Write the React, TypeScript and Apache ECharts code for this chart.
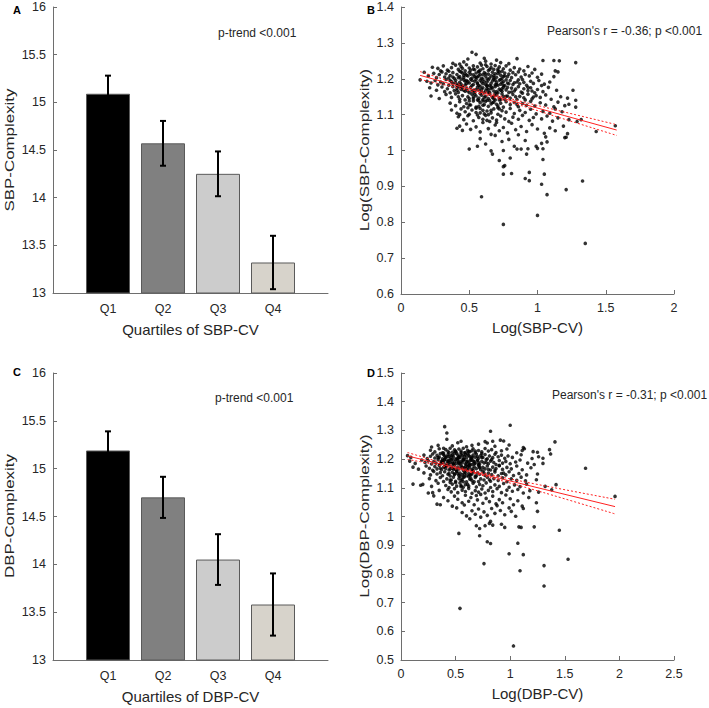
import React, { useEffect, useRef } from 'react';
import * as echarts from 'echarts';

const FONT = '"Liberation Sans", Arial, Helvetica, sans-serif';

const quartiles = ['Q1', 'Q2', 'Q3', 'Q4'];
const sbpMeans = [15.09, 14.57, 14.25, 13.32];
const sbpErr = [0.19, 0.235, 0.235, 0.28];
const dbpMeans = [15.19, 14.70, 14.05, 13.58];
const dbpErr = [0.2, 0.215, 0.265, 0.325];
const barColors = ['#000000', '#808080', '#cccccc', '#d7d3cb'];

const sbpFitX = [0.14, 0.4, 0.65, 0.9, 1.2, 1.58];
const sbpFit = [1.2094, 1.182, 1.1555, 1.129, 1.097, 1.057];
const sbpUpper = [1.220, 1.188, 1.160, 1.135, 1.107, 1.072];
const sbpLower = [1.198, 1.176, 1.151, 1.123, 1.087, 1.042];

const dbpFitX = [0.06, 0.3, 0.6, 0.9, 1.3, 1.96];
const dbpFit = [1.211, 1.1887, 1.1608, 1.133, 1.0958, 1.0345];
const dbpUpper = [1.223, 1.196, 1.165, 1.139, 1.108, 1.060];
const dbpLower = [1.199, 1.182, 1.157, 1.127, 1.084, 1.009];

const sbpPoints = [
  [0.52,1.274],[0.55,1.268],[0.70,1.252],[0.85,1.256],[1.04,1.251],[1.12,1.251],[1.16,1.250],[1.28,1.245],[0.46,1.247],[0.58,1.244],[0.62,1.249],[0.38,1.243],[0.66,1.241],[0.73,1.245],[0.49,1.255],[0.43,1.241],[0.79,1.242],[0.61,1.257],
  [0.23,1.232],[0.27,1.229],[0.31,1.236],[0.34,1.224],[0.37,1.231],[0.40,1.238],[0.42,1.226],[0.44,1.234],[0.47,1.222],[0.48,1.239],[0.50,1.230],[0.53,1.236],[0.54,1.225],[0.56,1.233],[0.57,1.221],[0.59,1.238],[0.60,1.228],[0.63,1.234],[0.64,1.223],[0.66,1.231],[0.68,1.226],[0.69,1.237],[0.71,1.222],[0.72,1.233],[0.75,1.228],[0.77,1.236],[0.80,1.224],[0.83,1.231],[0.87,1.227],[0.90,1.222],[0.93,1.234],[0.98,1.226],[1.13,1.222],[1.15,1.219],[0.45,1.229],[0.51,1.224],[0.62,1.239],[0.74,1.221],[0.35,1.221],[0.29,1.222],
  [0.17,1.218],[0.20,1.208],[0.24,1.215],[0.26,1.203],[0.28,1.212],[0.30,1.219],[0.32,1.205],[0.33,1.214],[0.36,1.209],[0.38,1.217],[0.39,1.201],[0.41,1.212],[0.43,1.206],[0.44,1.219],[0.46,1.203],[0.47,1.214],[0.49,1.208],[0.50,1.218],[0.52,1.202],[0.53,1.211],[0.55,1.216],[0.56,1.205],[0.58,1.212],[0.59,1.201],[0.61,1.217],[0.62,1.207],[0.64,1.213],[0.65,1.202],[0.67,1.218],[0.68,1.209],[0.70,1.204],[0.71,1.215],[0.73,1.210],[0.74,1.201],[0.76,1.216],[0.78,1.206],[0.79,1.213],[0.81,1.203],[0.84,1.211],[0.86,1.219],[0.88,1.205],[0.91,1.212],[0.94,1.208],[0.96,1.216],[1.00,1.204],[1.03,1.213],[1.12,1.206],[0.42,1.203],[0.48,1.210],[0.57,1.219],[0.63,1.200],[0.69,1.214],[0.75,1.207],[0.82,1.217],[0.54,1.206],[0.60,1.211],[0.45,1.216],[0.66,1.208],[0.72,1.219],[0.35,1.202],
  [0.14,1.197],[0.19,1.193],[0.22,1.188],[0.25,1.195],[0.27,1.183],[0.29,1.191],[0.31,1.186],[0.33,1.198],[0.35,1.182],[0.37,1.192],[0.38,1.187],[0.40,1.196],[0.41,1.181],[0.43,1.190],[0.44,1.185],[0.46,1.197],[0.47,1.183],[0.49,1.192],[0.50,1.188],[0.51,1.199],[0.53,1.184],[0.54,1.193],[0.56,1.189],[0.57,1.181],[0.58,1.196],[0.60,1.186],[0.61,1.192],[0.63,1.182],[0.64,1.197],[0.66,1.187],[0.67,1.194],[0.69,1.183],[0.70,1.190],[0.72,1.196],[0.73,1.185],[0.75,1.192],[0.76,1.181],[0.78,1.188],[0.80,1.195],[0.82,1.184],[0.85,1.191],[0.87,1.186],[0.89,1.198],[0.92,1.182],[0.95,1.193],[0.97,1.187],[1.01,1.195],[1.05,1.185],[1.09,1.191],[0.48,1.186],[0.55,1.198],[0.62,1.184],[0.68,1.199],[0.74,1.189],[0.59,1.191],[0.65,1.181],[0.52,1.195],[0.42,1.184],[0.36,1.195],[0.71,1.182],[0.77,1.197],[0.83,1.189],[0.90,1.190],[1.03,1.181],
  [0.21,1.175],[0.26,1.168],[0.30,1.177],[0.32,1.164],[0.34,1.172],[0.36,1.161],[0.38,1.178],[0.39,1.167],[0.41,1.174],[0.42,1.162],[0.44,1.170],[0.45,1.179],[0.47,1.165],[0.48,1.173],[0.50,1.161],[0.51,1.176],[0.53,1.168],[0.54,1.163],[0.56,1.177],[0.57,1.170],[0.59,1.164],[0.60,1.175],[0.62,1.167],[0.63,1.179],[0.65,1.162],[0.66,1.172],[0.68,1.166],[0.69,1.178],[0.71,1.161],[0.72,1.171],[0.74,1.165],[0.75,1.176],[0.77,1.169],[0.79,1.162],[0.81,1.174],[0.83,1.166],[0.86,1.178],[0.88,1.163],[0.90,1.172],[0.93,1.167],[0.95,1.175],[0.98,1.161],[1.00,1.170],[1.04,1.164],[1.08,1.176],[1.14,1.168],[1.26,1.168],[0.55,1.170],[0.61,1.161],[0.67,1.175],[0.73,1.168],[0.58,1.179],[0.64,1.170],[0.70,1.164],[0.46,1.168],[0.52,1.166],[0.78,1.176],[0.84,1.171],[0.96,1.166],[0.43,1.177],
  [0.22,1.152],[0.28,1.145],[0.33,1.156],[0.37,1.148],[0.40,1.158],[0.43,1.143],[0.45,1.153],[0.47,1.141],[0.49,1.150],[0.52,1.157],[0.53,1.144],[0.55,1.152],[0.57,1.146],[0.58,1.159],[0.60,1.142],[0.62,1.151],[0.64,1.145],[0.65,1.157],[0.67,1.148],[0.69,1.141],[0.70,1.155],[0.72,1.147],[0.74,1.158],[0.76,1.143],[0.78,1.152],[0.80,1.146],[0.82,1.156],[0.85,1.142],[0.87,1.151],[0.90,1.147],[0.93,1.157],[0.96,1.144],[0.99,1.153],[1.02,1.148],[1.06,1.155],[1.10,1.143],[1.17,1.150],[1.22,1.146],[0.50,1.145],[0.63,1.140],[0.75,1.151],[0.59,1.154],[0.68,1.152],[0.42,1.150],[0.56,1.141],[0.84,1.150],[0.73,1.142],[0.91,1.141],[1.28,1.140],
  [0.36,1.132],[0.40,1.125],[0.43,1.136],[0.46,1.122],[0.48,1.131],[0.51,1.127],[0.53,1.138],[0.55,1.121],[0.58,1.133],[0.60,1.126],[0.62,1.137],[0.64,1.123],[0.66,1.130],[0.68,1.135],[0.71,1.124],[0.73,1.132],[0.75,1.121],[0.77,1.136],[0.80,1.128],[0.83,1.134],[0.86,1.122],[0.89,1.131],[0.92,1.126],[0.95,1.137],[0.98,1.124],[1.02,1.133],[1.06,1.127],[1.12,1.122],[1.15,1.135],[1.20,1.125],[1.23,1.129],[1.28,1.121],[0.50,1.138],[0.57,1.123],[0.65,1.139],[0.70,1.129],
  [0.37,1.113],[0.41,1.104],[0.44,1.116],[0.47,1.108],[0.50,1.101],[0.52,1.113],[0.55,1.106],[0.58,1.117],[0.61,1.102],[0.63,1.110],[0.66,1.105],[0.68,1.116],[0.71,1.101],[0.74,1.111],[0.77,1.107],[0.80,1.117],[0.83,1.103],[0.87,1.112],[0.91,1.106],[0.95,1.115],[0.99,1.102],[1.04,1.109],[1.09,1.104],[1.13,1.116],[1.18,1.108],[0.60,1.112],[0.64,1.100],[0.72,1.116],[0.43,1.100],
  [0.42,1.094],[0.46,1.086],[0.49,1.097],[0.53,1.083],[0.57,1.092],[0.60,1.087],[0.62,1.098],[0.65,1.081],[0.67,1.091],[0.70,1.085],[0.73,1.096],[0.76,1.088],[0.79,1.081],[0.82,1.093],[0.86,1.087],[0.89,1.098],[0.94,1.084],[0.97,1.092],[1.03,1.088],[1.07,1.096],[1.11,1.082],[1.15,1.091],[1.23,1.086],[1.29,1.081],[1.32,1.086],[0.63,1.084],[0.56,1.099],
  [0.41,1.062],[0.43,1.068],[0.45,1.056],[0.48,1.074],[0.51,1.059],[0.55,1.066],[0.58,1.052],[0.60,1.078],[0.64,1.061],[0.66,1.045],[0.69,1.071],[0.72,1.055],[0.75,1.064],[0.78,1.049],[0.81,1.076],[0.84,1.058],[0.88,1.067],[0.92,1.053],[0.96,1.072],[1.00,1.060],[1.05,1.048],[1.09,1.063],[1.13,1.055],[1.19,1.068],[1.22,1.047],[1.43,1.053],[1.57,1.069],[0.69,1.042],[0.86,1.044],[0.70,1.078],
  [0.50,1.004],[0.56,1.012],[0.58,1.033],[0.62,1.018],[0.66,0.999],[0.67,0.990],[0.75,1.000],[0.83,1.012],[0.85,1.004],[0.88,1.004],[0.93,1.005],[0.99,1.012],[1.00,1.006],[1.03,1.020],[1.04,1.005],[1.06,1.038],[1.07,1.024],[1.20,1.036],[1.21,1.037],[0.74,1.025],[0.79,1.031],[0.91,1.028],
  [0.92,0.990],[0.72,0.972],[0.80,0.979],[1.04,0.975],[0.75,0.955],[0.76,0.958],[0.75,0.934],[0.81,0.936],[0.94,0.939],[1.05,0.934],[0.91,0.922],[0.94,0.916],[1.03,0.906],[1.33,0.915],[1.21,0.891],[1.07,0.877],[0.59,0.871],[1.00,0.819],[0.75,0.794],[1.35,0.741],
  [0.38,1.205],[0.40,1.189],[0.43,1.221],[0.45,1.176],[0.46,1.209],[0.48,1.195],[0.49,1.166],[0.51,1.213],[0.52,1.181],[0.53,1.227],[0.54,1.157],[0.55,1.204],[0.56,1.186],[0.57,1.139],[0.58,1.224],[0.59,1.171],[0.60,1.199],[0.61,1.148],[0.62,1.214],[0.63,1.191],[0.64,1.162],[0.65,1.226],[0.66,1.178],[0.67,1.133],[0.68,1.203],[0.69,1.159],[0.70,1.184],[0.71,1.227],[0.72,1.141],[0.73,1.198],[0.74,1.172],[0.76,1.208],[0.77,1.151],[0.79,1.186],[0.81,1.163],[0.50,1.127],[0.55,1.118],[0.61,1.128],[0.66,1.112],[0.71,1.119],[0.47,1.193],[0.44,1.199],[0.41,1.168],[0.57,1.208],[0.63,1.173],[0.69,1.196],[0.75,1.181],[0.60,1.138],[0.53,1.149],[0.68,1.144],[0.86,1.197],[0.89,1.160],[0.93,1.176],[0.97,1.149],[0.58,1.105],[0.49,1.119],[0.85,1.128]
];

const dbpPoints = [
  [0.40,1.313],[0.42,1.291],[0.82,1.297],[1.00,1.318],[0.42,1.269],[0.91,1.266],[0.77,1.261],[0.79,1.256],[0.94,1.263],[1.41,1.260],[1.36,1.233],[1.37,1.218],[0.52,1.257],[0.65,1.248],[0.71,1.252],[1.12,1.240],[1.13,1.236],[0.86,1.245],[0.47,1.246],[0.60,1.243],[0.99,1.249],[0.55,1.262],[0.84,1.262],[0.28,1.242],[0.34,1.248],
  [0.27,1.231],[0.31,1.225],[0.35,1.236],[0.38,1.222],[0.41,1.233],[0.43,1.227],[0.45,1.238],[0.47,1.224],[0.49,1.232],[0.51,1.221],[0.53,1.235],[0.55,1.228],[0.57,1.238],[0.59,1.223],[0.61,1.231],[0.63,1.226],[0.66,1.236],[0.68,1.222],[0.71,1.230],[0.74,1.225],[0.77,1.237],[0.80,1.228],[0.83,1.233],[0.87,1.223],[0.92,1.229],[0.97,1.235],[1.06,1.222],[1.11,1.230],[1.21,1.226],[1.25,1.224],[0.50,1.228],[0.58,1.222],[0.65,1.229],[0.44,1.222],[0.39,1.238],
  [0.06,1.212],[0.09,1.206],[0.21,1.214],[0.24,1.202],[0.27,1.210],[0.29,1.218],[0.31,1.204],[0.33,1.213],[0.35,1.207],[0.36,1.219],[0.38,1.201],[0.40,1.211],[0.41,1.205],[0.43,1.216],[0.45,1.203],[0.46,1.212],[0.48,1.208],[0.49,1.219],[0.51,1.202],[0.52,1.214],[0.54,1.206],[0.55,1.217],[0.57,1.201],[0.58,1.211],[0.60,1.205],[0.61,1.218],[0.63,1.209],[0.64,1.202],[0.66,1.214],[0.68,1.207],[0.69,1.218],[0.71,1.203],[0.73,1.212],[0.75,1.206],[0.77,1.216],[0.79,1.201],[0.81,1.211],[0.84,1.205],[0.86,1.217],[0.89,1.208],[0.92,1.214],[0.95,1.203],[0.98,1.211],[1.02,1.206],[1.10,1.215],[1.20,1.202],[1.26,1.208],[1.30,1.203],[0.47,1.200],[0.53,1.209],[0.62,1.213],[0.70,1.209],[0.56,1.212],[0.44,1.210],[0.39,1.215],[0.74,1.219],[0.65,1.204],
  [0.08,1.193],[0.13,1.185],[0.19,1.197],[0.22,1.188],[0.25,1.194],[0.28,1.183],[0.30,1.191],[0.32,1.186],[0.34,1.198],[0.36,1.182],[0.37,1.192],[0.39,1.188],[0.40,1.197],[0.42,1.184],[0.43,1.193],[0.45,1.189],[0.46,1.198],[0.48,1.182],[0.49,1.191],[0.51,1.186],[0.52,1.196],[0.54,1.183],[0.55,1.192],[0.56,1.187],[0.58,1.199],[0.59,1.184],[0.61,1.193],[0.62,1.188],[0.64,1.197],[0.65,1.181],[0.67,1.191],[0.68,1.186],[0.70,1.196],[0.72,1.183],[0.74,1.192],[0.76,1.187],[0.78,1.198],[0.80,1.184],[0.82,1.193],[0.85,1.188],[0.87,1.181],[0.90,1.195],[0.93,1.186],[0.96,1.192],[1.00,1.184],[1.05,1.190],[1.09,1.197],[1.16,1.186],[1.22,1.181],[1.30,1.185],[0.47,1.187],[0.53,1.190],[0.60,1.181],[0.66,1.194],[0.71,1.189],[0.57,1.195],[0.63,1.183],[0.50,1.199],[0.44,1.181],[0.38,1.194],
  [0.11,1.172],[0.16,1.165],[0.23,1.176],[0.26,1.168],[0.29,1.161],[0.31,1.174],[0.33,1.166],[0.35,1.178],[0.37,1.163],[0.39,1.171],[0.41,1.167],[0.42,1.177],[0.44,1.162],[0.46,1.173],[0.47,1.168],[0.49,1.179],[0.50,1.164],[0.52,1.172],[0.53,1.166],[0.55,1.176],[0.57,1.161],[0.58,1.170],[0.60,1.165],[0.62,1.177],[0.63,1.169],[0.65,1.162],[0.67,1.174],[0.69,1.167],[0.71,1.178],[0.73,1.163],[0.75,1.171],[0.77,1.166],[0.79,1.176],[0.82,1.162],[0.84,1.172],[0.87,1.167],[0.90,1.177],[0.93,1.164],[0.97,1.171],[1.01,1.166],[1.06,1.176],[1.11,1.163],[1.19,1.170],[1.69,1.168],[0.56,1.169],[0.61,1.173],[0.48,1.165],[0.66,1.166],[0.72,1.170],[0.40,1.175],
  [0.21,1.152],[0.27,1.145],[0.30,1.157],[0.33,1.148],[0.36,1.153],[0.38,1.142],[0.40,1.156],[0.43,1.147],[0.45,1.141],[0.47,1.154],[0.49,1.146],[0.51,1.158],[0.53,1.143],[0.54,1.151],[0.56,1.146],[0.58,1.157],[0.60,1.142],[0.62,1.150],[0.64,1.145],[0.66,1.156],[0.68,1.141],[0.70,1.152],[0.72,1.147],[0.75,1.158],[0.77,1.143],[0.80,1.151],[0.83,1.146],[0.86,1.155],[0.89,1.142],[0.92,1.150],[0.96,1.145],[0.99,1.156],[1.03,1.143],[1.08,1.150],[1.15,1.145],[1.25,1.148],[0.52,1.149],[0.59,1.153],[0.65,1.149],[0.44,1.150],
  [0.26,1.132],[0.32,1.125],[0.36,1.136],[0.39,1.122],[0.42,1.131],[0.45,1.127],[0.48,1.137],[0.50,1.123],[0.53,1.132],[0.55,1.126],[0.58,1.138],[0.60,1.121],[0.63,1.130],[0.65,1.125],[0.68,1.136],[0.71,1.122],[0.73,1.131],[0.76,1.127],[0.79,1.137],[0.82,1.123],[0.85,1.132],[0.89,1.126],[0.93,1.135],[0.97,1.121],[1.01,1.131],[1.06,1.126],[1.10,1.137],[1.14,1.124],[1.24,1.128],[0.57,1.121],[0.62,1.139],
  [0.20,1.112],[0.28,1.105],[0.34,1.116],[0.41,1.108],[0.44,1.101],[0.47,1.113],[0.51,1.106],[0.54,1.117],[0.57,1.102],[0.59,1.111],[0.62,1.106],[0.66,1.116],[0.69,1.103],[0.72,1.112],[0.75,1.107],[0.78,1.117],[0.82,1.101],[0.86,1.110],[0.90,1.105],[0.94,1.115],[0.99,1.102],[1.04,1.110],[1.09,1.104],[1.15,1.113],[1.32,1.105],[1.42,1.111],[1.38,1.093],[0.55,1.108],
  [0.25,1.082],[0.29,1.083],[0.35,1.091],[0.43,1.094],[0.46,1.086],[0.49,1.097],[0.52,1.083],[0.56,1.092],[0.59,1.087],[0.62,1.098],[0.65,1.081],[0.68,1.090],[0.71,1.085],[0.74,1.096],[0.77,1.082],[0.80,1.091],[0.84,1.087],[0.88,1.097],[0.92,1.083],[0.97,1.092],[1.02,1.088],[1.07,1.094],[1.12,1.082],[1.18,1.090],[1.26,1.085],[0.11,1.113],[0.18,1.109],
  [0.30,1.072],[0.33,1.043],[0.36,1.041],[0.39,1.066],[0.43,1.055],[0.47,1.036],[0.49,1.071],[0.52,1.060],[0.56,1.048],[0.59,1.074],[0.62,1.053],[0.64,1.066],[0.67,1.041],[0.70,1.058],[0.73,1.077],[0.75,1.046],[0.78,1.063],[0.81,1.052],[0.84,1.071],[0.87,1.044],[0.90,1.059],[0.93,1.048],[0.96,1.075],[1.00,1.062],[1.03,1.041],[1.07,1.055],[1.11,1.036],[1.17,1.066],[1.24,1.048],[1.96,1.070],[0.58,1.040],[0.69,1.073],
  [0.51,1.030],[0.56,1.014],[0.60,1.002],[0.63,0.992],[0.65,1.020],[0.68,1.008],[0.71,1.026],[0.73,0.998],[0.76,1.016],[0.79,1.004],[0.83,1.028],[0.86,1.011],[0.88,1.038],[0.91,1.021],[0.95,1.006],[0.99,1.030],[1.01,1.018],[1.05,1.001],[1.12,1.028],[1.25,1.018],[0.82,0.983],[0.81,0.976],
  [0.69,0.968],[0.72,0.958],[0.77,0.968],[0.84,0.970],[0.92,0.973],[0.95,0.962],[1.08,0.964],[1.10,0.962],[1.22,0.964],[1.45,0.952],[0.53,0.941],[0.72,0.933],[0.79,0.912],[0.82,0.906],[1.07,0.907],[0.99,0.870],[1.12,0.867],[0.76,0.836],[1.09,0.811],[1.31,0.829],[1.53,0.851],[1.31,0.758],[0.54,0.680],[1.03,0.549],
  [0.34,1.205],[0.37,1.188],[0.39,1.221],[0.41,1.177],[0.42,1.208],[0.44,1.194],[0.45,1.166],[0.47,1.213],[0.48,1.184],[0.50,1.226],[0.51,1.157],[0.52,1.201],[0.53,1.185],[0.54,1.139],[0.55,1.223],[0.56,1.172],[0.57,1.198],[0.58,1.148],[0.59,1.215],[0.60,1.191],[0.61,1.162],[0.62,1.225],[0.63,1.178],[0.64,1.132],[0.65,1.207],[0.66,1.158],[0.67,1.184],[0.68,1.228],[0.69,1.141],[0.70,1.197],[0.72,1.173],[0.74,1.206],[0.76,1.152],[0.78,1.188],[0.80,1.164],[0.46,1.127],[0.50,1.118],[0.56,1.129],[0.61,1.112],[0.67,1.121],[0.43,1.193],[0.40,1.199],[0.36,1.168],[0.53,1.206],[0.59,1.174],[0.64,1.196],[0.71,1.181],[0.57,1.137],[0.49,1.149],[0.63,1.144],[0.83,1.198],[0.86,1.161],[0.90,1.178],[0.94,1.151],[0.55,1.104],[0.45,1.119],[0.81,1.128]
];

const AXIS_COLOR = '#6e6e6e';
const TEXT_COLOR = '#262626';

function valueAxisBase(gridIndex: number, min: number, max: number, interval: number, name: string, nameGap: number) {
  return {
    type: 'value', gridIndex, min, max, interval, name, nameLocation: 'middle', nameGap,
    nameTextStyle: { fontSize: 15, color: TEXT_COLOR, fontFamily: FONT },
    axisLine: { show: true, lineStyle: { color: AXIS_COLOR, width: 1 } },
    axisTick: { show: true, inside: true, length: 4, lineStyle: { color: AXIS_COLOR } },
    axisLabel: { fontSize: 12.5, color: TEXT_COLOR, fontFamily: FONT, margin: 7 },
    splitLine: { show: false },
  };
}

function catAxis(gridIndex: number, name: string) {
  return {
    type: 'category', gridIndex, data: ['', ...quartiles, ''], boundaryGap: false, name, nameLocation: 'middle', nameGap: 29,
    nameTextStyle: { fontSize: 15, color: TEXT_COLOR, fontFamily: FONT },
    axisLine: { show: true, lineStyle: { color: AXIS_COLOR, width: 1 } },
    axisTick: { show: true, inside: true, length: 4, lineStyle: { color: AXIS_COLOR }, interval: (i: number) => i >= 1 && i <= 4 },
    axisLabel: { fontSize: 12.5, color: TEXT_COLOR, fontFamily: FONT, margin: 9, interval: 0 },
    splitLine: { show: false },
  };
}

function barSeries(idx: number, means: number[]) {
  return {
    type: 'bar', xAxisIndex: idx, yAxisIndex: idx, barWidth: 44, clip: true,
    data: ['-', ...means.map((v, i) => ({ value: v, itemStyle: { color: barColors[i], borderColor: '#5a5a5a', borderWidth: 1 } })), '-'],
  };
}

function errSeries(idx: number, means: number[], errs: number[]) {
  return {
    type: 'custom', xAxisIndex: idx, yAxisIndex: idx, z: 5,
    data: means.map((m, i) => [i + 1, m - errs[i], m + errs[i]]),
    encode: { x: 0, y: [1, 2] },
    renderItem: (params: any, api: any) => {
      const x = api.value(0);
      const lo = api.coord([x, api.value(1)]);
      const hi = api.coord([x, api.value(2)]);
      const w = 3;
      const style = { stroke: '#000', lineWidth: 2 };
      return {
        type: 'group',
        children: [
          { type: 'line', shape: { x1: lo[0], y1: lo[1], x2: hi[0], y2: hi[1] }, style },
          { type: 'line', shape: { x1: hi[0] - w, y1: hi[1], x2: hi[0] + w, y2: hi[1] }, style },
          { type: 'line', shape: { x1: lo[0] - w, y1: lo[1], x2: lo[0] + w, y2: lo[1] }, style },
        ],
      };
    },
  };
}

function lineSeries(idx: number, xs: number[], ys: number[], dotted: boolean) {
  return {
    type: 'line', xAxisIndex: idx, yAxisIndex: idx, symbol: 'none', z: 4,
    data: xs.map((x, i) => [x, ys[i]]),
    lineStyle: { color: '#ff2020', width: 1, type: dotted ? [2, 2] : 'solid' },
    smooth: dotted ? 0.3 : false,
  };
}

function scatterSeries(idx: number, pts: number[][]) {
  return {
    type: 'scatter', xAxisIndex: idx, yAxisIndex: idx, symbol: 'circle', symbolSize: 3.6,
    itemStyle: { color: '#000' }, data: pts,
  };
}

function label(x: number, y: number, text: string, size: number, bold = false) {
  return {
    type: 'text', x, y,
    style: { text, fontSize: size, fontFamily: FONT, fontWeight: bold ? 'bold' : 'normal', fill: bold ? '#000' : TEXT_COLOR, verticalAlign: 'middle', align: 'left' },
  };
}

function yTitle(x: number, y: number, text: string, stretch: number) {
  return {
    type: 'text', x, y, rotation: Math.PI / 2, scaleX: stretch, scaleY: 1,
    style: { text, fontSize: 13, fontFamily: FONT, fill: TEXT_COLOR, verticalAlign: 'middle', align: 'center' },
  };
}

export default function App() {
  const ref = useRef<HTMLDivElement>(null);
  useEffect(() => {
    if (!ref.current) return;
    const chart = echarts.init(ref.current, undefined, { renderer: 'svg' });
    chart.setOption({
      animation: false,
      backgroundColor: '#ffffff',
      textStyle: { fontFamily: FONT },
      grid: [
        { left: 53, top: 7, width: 275, height: 286 },
        { left: 401, top: 7, width: 273, height: 287 },
        { left: 53, top: 373, width: 275, height: 287 },
        { left: 401, top: 373, width: 273, height: 287 },
      ],
      xAxis: [
        catAxis(0, 'Quartiles of SBP-CV'),
        valueAxisBase(1, 0, 2, 0.5, 'Log(SBP-CV)', 26),
        catAxis(2, 'Quartiles of DBP-CV'),
        valueAxisBase(3, 0, 2.5, 0.5, 'Log(DBP-CV)', 26),
      ],
      yAxis: [
        valueAxisBase(0, 13, 16, 0.5, '', 38),
        valueAxisBase(1, 0.6, 1.4, 0.1, '', 30),
        valueAxisBase(2, 13, 16, 0.5, '', 38),
        valueAxisBase(3, 0.5, 1.5, 0.1, '', 30),
      ],
      series: [
        barSeries(0, sbpMeans),
        errSeries(0, sbpMeans, sbpErr),
        barSeries(2, dbpMeans),
        errSeries(2, dbpMeans, dbpErr),
        scatterSeries(1, sbpPoints),
        lineSeries(1, sbpFitX, sbpFit, false),
        lineSeries(1, sbpFitX, sbpUpper, true),
        lineSeries(1, sbpFitX, sbpLower, true),
        scatterSeries(3, dbpPoints),
        lineSeries(3, dbpFitX, dbpFit, false),
        lineSeries(3, dbpFitX, dbpUpper, true),
        lineSeries(3, dbpFitX, dbpLower, true),
      ],
      graphic: [
        label(13, 10, 'A', 11, true),
        label(367, 10, 'B', 11, true),
        label(13, 372, 'C', 11, true),
        label(367, 373, 'D', 11, true),
        label(218, 33, 'p-trend <0.001', 12),
        label(215, 398, 'p-trend <0.001', 12),
        label(547, 31, "Pearson's r = -0.36; p <0.001", 12),
        label(552, 395, "Pearson's r = -0.31; p <0.001", 12),
        yTitle(9, 150, 'SBP-Complexity', 1.3),
        yTitle(364, 150, 'Log(SBP-Complexity)', 1.3),
        yTitle(9, 516, 'DBP-Complexity', 1.3),
        yTitle(364, 516, 'Log(DBP-Complexity)', 1.3),
      ],
    });
    return () => chart.dispose();
  }, []);
  return <div ref={ref} style={{ position: 'absolute', left: 0, top: 0, width: 709, height: 708, background: '#fff' }} />;
}
